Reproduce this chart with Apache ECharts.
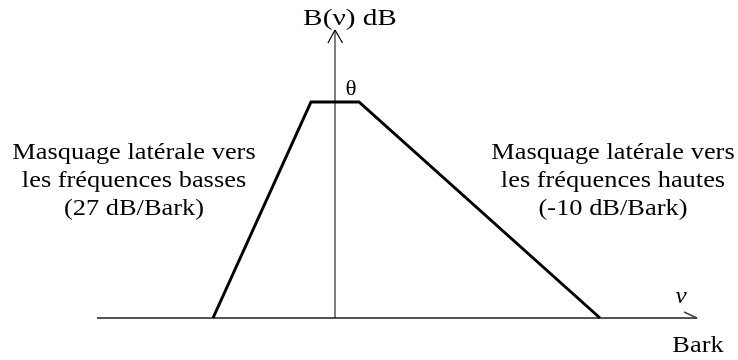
<!DOCTYPE html>
<html>
<head>
<meta charset="utf-8">
<script src="https://cdn.jsdelivr.net/npm/echarts@6/dist/echarts.min.js"></script>
<style>html,body{margin:0;padding:0;background:#fff}#c{width:738px;height:360px}</style>
</head>
<body>
<div id="c"></div>
<script>
// Masking curve (x in arbitrary Bark units, y in arbitrary dB units)
var curveX = [-12.2, -2.4, 2.4, 26.5];
var curveY = [0, 21.6, 21.6, 0];
// Axes
var hAxisX = [-23.8, 36.2];
var hAxisY = [0, 0];
var vAxisX = [0, 0];
var vAxisY = [0, 28.8];
// Arrow heads
var hArrowX = [34.9, 36.2, 34.9];
var hArrowY = [0.6, 0, -0.6];
var vArrowX = [-0.7, 0, 0.75];
var vArrowY = [27.5, 28.8, 27.5];
// Texts
var yTitle = 'B(ν) dB';
var xSymbol = 'ν';
var xUnit = 'Bark';
var peakLabel = 'θ';
var leftNote = ['Masquage latérale vers', 'les fréquences basses', '(27 dB/Bark)'];
var rightNote = ['Masquage latérale vers', 'les fréquences hautes', '(-10 dB/Bark)'];

function zip(a, b) { return a.map(function (v, i) { return [v, b[i]]; }); }
var serif = '"Liberation Serif", "Times New Roman", serif';
function txt(x, y, s, size, sx, extra) {
  var st = { text: s, fontSize: size, fontFamily: serif, fill: '#000', align: 'center', verticalAlign: 'middle', lineHeight: 28 };
  if (extra) for (var k in extra) st[k] = extra[k];
  return { type: 'text', x: x, y: y, scaleX: sx, style: st };
}

var chart = echarts.init(document.getElementById('c'));
chart.setOption({
  animation: false,
  backgroundColor: '#fff',
  grid: { left: 97, right: 40, top: 30, bottom: 42 },
  xAxis: { type: 'value', min: -23.8, max: 36.3, show: false },
  yAxis: { type: 'value', min: 0, max: 28.8, show: false },
  series: [
    { type: 'line', data: zip(hAxisX, hAxisY), symbol: 'none', lineStyle: { color: '#555', width: 2 }, z: 1 },
    { type: 'line', data: zip(hArrowX, hArrowY), symbol: 'none', lineStyle: { color: '#444', width: 1.5 }, z: 1 },
    { type: 'line', data: zip(vAxisX, vAxisY), symbol: 'none', lineStyle: { color: '#000', width: 1 }, z: 1 },
    { type: 'line', data: zip(vArrowX, vArrowY), symbol: 'none', lineStyle: { color: '#000', width: 1.2 }, z: 1 },
    { type: 'line', data: zip(curveX, curveY), symbol: 'none', lineStyle: { color: '#000', width: 3, join: 'miter' }, z: 2 }
  ],
  graphic: [
    txt(350, 19, yTitle, 24, 1.22),
    txt(351, 89, peakLabel, 22, 1.05),
    txt(681, 297, xSymbol, 24, 1.05, { fontStyle: 'italic' }),
    txt(698, 346, xUnit, 24, 1.1),
    txt(134, 181, leftNote.join('\n'), 24, 1.1),
    txt(613, 181, rightNote.join('\n'), 24, 1.1)
  ]
});
</script>
</body>
</html>
